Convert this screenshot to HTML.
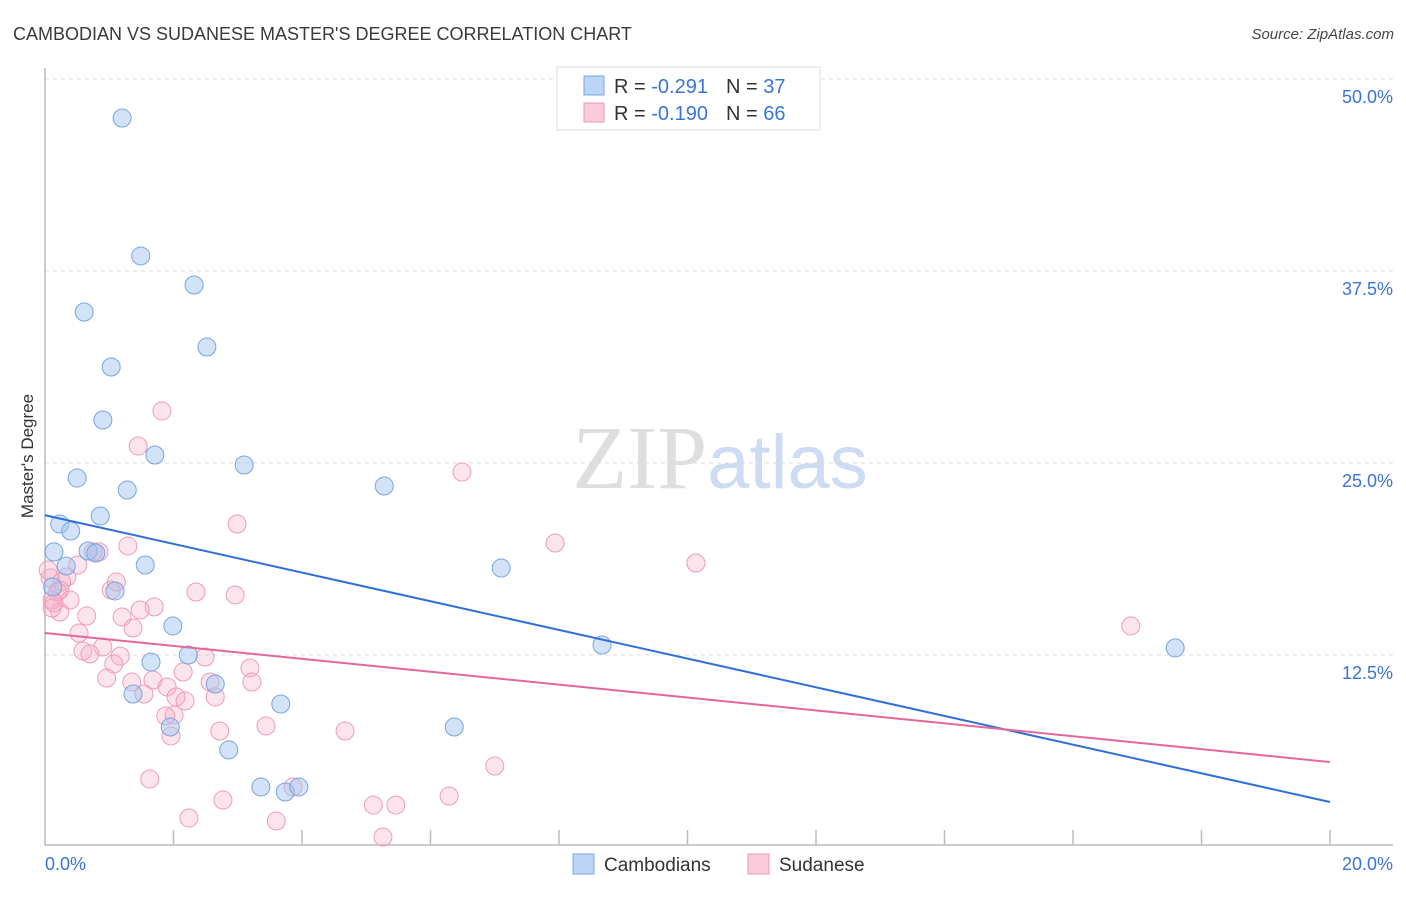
<!DOCTYPE html>
<html><head><meta charset="utf-8"><style>
body{margin:0;background:#fff;font-family:"Liberation Sans",sans-serif}
</style></head><body>
<svg id="chart" width="1406" height="892" xmlns="http://www.w3.org/2000/svg" font-family="Liberation Sans, sans-serif">
<text x="13" y="40" font-size="18" fill="#3a3a3a">CAMBODIAN VS SUDANESE MASTER'S DEGREE CORRELATION CHART</text>
<text x="1394" y="39" font-size="15" fill="#444" text-anchor="end" font-style="italic">Source: ZipAtlas.com</text>
<text x="720" y="488" text-anchor="middle" font-size="90"><tspan font-family="Liberation Serif, serif" fill="#dedede">ZIP</tspan><tspan fill="#cddcf2" font-size="76">atlas</tspan></text>
<g id="grid"></g>
<g id="axes"></g>
<g id="marks"></g>
<text transform="translate(33,456) rotate(-90)" text-anchor="middle" font-size="17" fill="#333">Master's Degree</text>
<g>
<rect x="557" y="67" width="263" height="63" fill="#fff" stroke="#ddd"/>
<rect x="584" y="76" width="20" height="19" fill="#bcd4f6" stroke="#7aa6e6"/>
<rect x="584" y="103" width="20" height="19" fill="#fbcadb" stroke="#ee9ab6"/>
<text x="614" y="93" font-size="20" fill="#333">R = <tspan fill="#3a74d4">-0.291</tspan><tspan dx="18">N = </tspan><tspan fill="#3a74d4">37</tspan></text>
<text x="614" y="120" font-size="20" fill="#333">R = <tspan fill="#3a74d4">-0.190</tspan><tspan dx="18">N = </tspan><tspan fill="#3a74d4">66</tspan></text>
</g>
<g>
<rect x="573" y="854" width="21" height="20" fill="#bcd4f6" stroke="#7aa6e6"/>
<text x="604" y="871" font-size="19" fill="#333">Cambodians</text>
<rect x="748" y="854" width="21" height="20" fill="#fbcadb" stroke="#ee9ab6"/>
<text x="779" y="871" font-size="19" fill="#333">Sudanese</text>
</g>
</svg>
<script>
const xTickLabels=["0.0%","20.0%"];
const yTicks=[12.5,25,37.5,50];
const yTickLabels=["12.5%","25.0%","37.5%","50.0%"];
const cambX=[1.20,1.49,2.32,0.61,2.52,1.03,0.90,1.71,3.10,0.50,1.28,5.28,0.86,0.23,0.40,0.14,0.67,0.79,1.56,0.33,7.10,1.09,0.12,1.99,8.67,2.23,17.59,1.65,2.65,1.37,3.67,6.37,1.95,2.86,3.36,3.74,3.95];
const cambY=[47.46,38.48,36.59,34.83,32.55,31.25,27.80,25.52,24.87,24.02,23.24,23.50,21.55,21.03,20.57,19.21,19.27,19.14,18.36,18.29,18.16,16.67,16.93,14.39,13.15,12.50,12.96,12.04,10.61,9.96,9.31,7.81,7.81,6.32,3.91,3.58,3.91];
const sudX=[1.82,1.45,6.49,2.99,7.94,1.29,0.84,0.75,0.51,10.13,0.34,0.26,0.08,1.11,0.19,2.35,2.96,1.03,0.39,0.11,1.70,1.48,0.65,1.20,0.23,0.11,1.37,0.53,0.90,0.59,0.70,1.17,2.49,16.90,2.15,3.19,1.07,0.96,1.35,1.68,1.90,2.57,3.22,2.04,2.18,2.65,1.54,1.88,2.01,2.72,3.44,4.67,1.96,1.63,7.00,2.77,5.11,5.46,6.29,2.24,3.60,5.26,3.86,0.23,0.14,0.05];
const sudY=[28.39,26.11,24.41,21.03,19.79,19.60,19.21,19.21,18.36,18.49,17.58,17.25,17.51,17.25,16.60,16.60,16.41,16.73,16.08,16.08,15.63,15.43,15.04,14.97,15.30,15.56,14.26,13.93,13.02,12.76,12.57,12.43,12.37,14.39,11.39,11.65,11.91,11.00,10.74,10.87,10.42,10.74,10.74,9.77,9.51,9.77,9.96,8.53,8.59,7.55,7.88,7.55,7.23,4.43,5.27,3.06,2.73,2.73,3.32,1.89,1.69,0.65,3.91,16.73,15.89,18.03];
const cambTrend=[21.6,2.93];
const sudTrend=[13.93,5.53];
const NS="http://www.w3.org/2000/svg";
const X=v=>45+v*64.25, Y=v=>847-v*15.36;
function mk(tag,attrs,parent){const e=document.createElementNS(NS,tag);for(const k in attrs)e.setAttribute(k,attrs[k]);document.getElementById(parent).appendChild(e);return e;}
yTicks.forEach((t,i)=>{
 const g=mk('line',{x1:45,x2:1393,y1:Y(t),y2:Y(t),stroke:'#ddd','stroke-dasharray':'4,4'},'grid');
 
 
 const l=mk('text',{x:1393,y:Y(t)+24,'text-anchor':'end','font-size':18,fill:'#3a74d4'},'grid');
 l.textContent=yTickLabels[i];
 
 
});
const ax=mk('path',{d:'M45,68V845H1393',fill:'none',stroke:'#bbb','stroke-width':1.5},'axes');


for(let k=1;k<=10;k++){const t=mk('line',{x1:X(k*2),x2:X(k*2),y1:830,y2:845,stroke:'#bbb','stroke-width':1.5},'axes');
 
 }
const xl0=mk('text',{x:45,y:870,'font-size':18,fill:'#3a74d4'},'axes');xl0.textContent=xTickLabels[0];


const xl1=mk('text',{x:1393,y:870,'font-size':18,fill:'#3a74d4','text-anchor':'end'},'axes');xl1.textContent=xTickLabels[1];


sudX.forEach((v,i)=>{const c=mk('circle',{cx:X(v),cy:Y(sudY[i]),r:9,fill:'rgba(246,170,196,0.32)',stroke:'#ee9cb8','stroke-width':1},'marks');
 
 });
cambX.forEach((v,i)=>{const c=mk('circle',{cx:X(v),cy:Y(cambY[i]),r:9,fill:'rgba(160,196,240,0.48)',stroke:'#78a4e2','stroke-width':1},'marks');
 
 });
const tb=mk('line',{x1:X(0),x2:X(20),y1:Y(cambTrend[0]),y2:Y(cambTrend[1]),stroke:'#2f6fd6','stroke-width':2},'marks');


const tp=mk('line',{x1:X(0),x2:X(20),y1:Y(sudTrend[0]),y2:Y(sudTrend[1]),stroke:'#e5679a','stroke-width':2},'marks');


</script>
</body></html>
